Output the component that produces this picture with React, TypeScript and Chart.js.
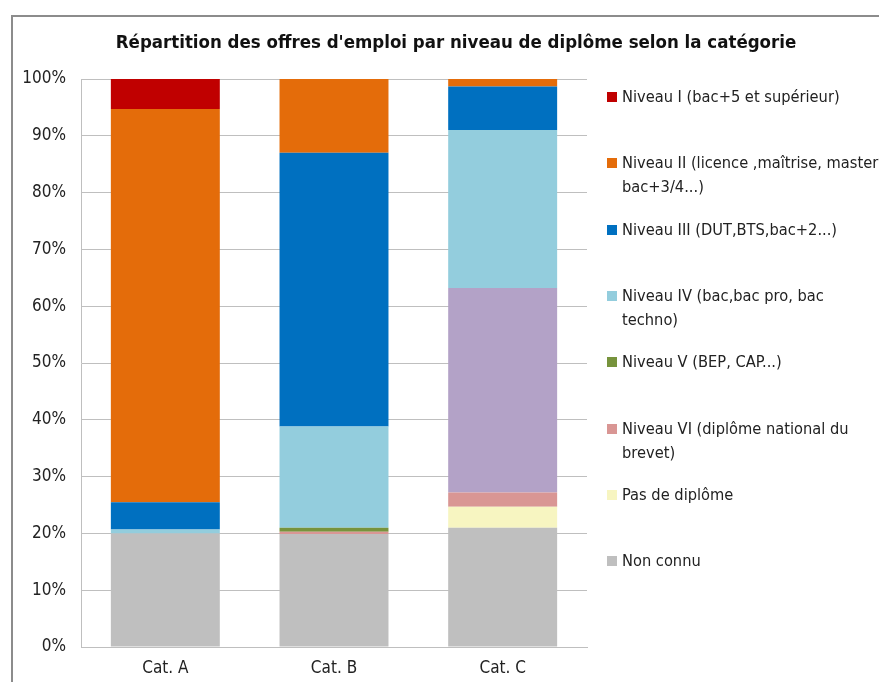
import React, { useEffect, useRef } from "react";
import { Chart, registerables } from "chart.js";

Chart.register(...registerables);

const categories = ["Cat. A", "Cat. B", "Cat. C"];
const nonConnu = [20.0, 19.9, 21.0];
const pasDeDiplome = [0, 0, 3.7];
const niveauVI = [0, 0.4, 2.5];
const niveauV = [0, 0.7, 0];
const autre = [0, 0, 36.0];
const niveauIV = [0.7, 17.8, 27.8];
const niveauIII = [4.8, 48.2, 7.7];
const niveauII = [69.2, 13.0, 1.3];
const niveauI = [5.3, 0, 0];

const yTicks = [0, 10, 20, 30, 40, 50, 60, 70, 80, 90, 100];

const TITLE = "Répartition des offres d'emploi par niveau de diplôme selon la catégorie";

// legend entries (top to bottom), with their explicit line breaks
const legendLabels: string[][] = [
  ["Niveau I (bac+5 et supérieur)"],
  ["Niveau II (licence ,maîtrise, master,", "bac+3/4...)"],
  ["Niveau III (DUT,BTS,bac+2...)"],
  ["Niveau IV (bac,bac pro, bac", "techno)"],
  ["Niveau V (BEP, CAP...)"],
  ["Niveau VI (diplôme national du", "brevet)"],
  ["Pas de diplôme"],
  ["Non connu"],
];
const legendColors = ["#C00000", "#E46C0A", "#0070C0", "#93CDDD", "#77933C", "#D99694", "#F7F5C1", "#BFBFBF"];

const FONT = "'Liberation Sans Narrow', 'DejaVu Sans Condensed', 'Open Sans', sans-serif";

export default function App() {
  const ref = useRef<HTMLCanvasElement | null>(null);

  useEffect(() => {
    if (!ref.current) return;
    const datasets = [
      { label: "Non connu", data: nonConnu, backgroundColor: "#BFBFBF" },
      { label: "Pas de diplôme", data: pasDeDiplome, backgroundColor: "#F7F5C1" },
      { label: "Niveau VI (diplôme national du brevet)", data: niveauVI, backgroundColor: "#D99694" },
      { label: "Niveau V (BEP, CAP...)", data: niveauV, backgroundColor: "#77933C" },
      { label: "", data: autre, backgroundColor: "#B3A2C7" },
      { label: "Niveau IV (bac,bac pro, bac techno)", data: niveauIV, backgroundColor: "#93CDDD" },
      { label: "Niveau III (DUT,BTS,bac+2...)", data: niveauIII, backgroundColor: "#0070C0" },
      { label: "Niveau II (licence ,maîtrise, master, bac+3/4...)", data: niveauII, backgroundColor: "#E46C0A" },
      { label: "Niveau I (bac+5 et supérieur)", data: niveauI, backgroundColor: "#C00000" },
    ].map((d) => ({ ...d, barPercentage: 0.646, categoryPercentage: 1, borderWidth: 0 }));

    const chart = new Chart(ref.current, {
      type: "bar",
      data: { labels: categories, datasets },
      options: {
        animation: false,
        responsive: false,
        devicePixelRatio: 1,
        layout: { padding: { top: 79, left: 0, right: 292, bottom: 0 } },
        plugins: { legend: { display: false }, title: { display: false }, tooltip: { enabled: false } },
        scales: {
          x: {
            stacked: true,
            grid: { display: false, drawTicks: false },
            border: { display: true, color: "#BFBFBF", width: 1 },
            ticks: { padding: 11, color: "#222", font: { family: FONT, size: 17 } },
            afterFit: (s: any) => { s.height = 35; },
          },
          y: {
            stacked: true,
            min: 0,
            max: 100,
            afterBuildTicks: (s: any) => { s.ticks = yTicks.map((v) => ({ value: v })); },
            grid: { color: "#BFBFBF", lineWidth: 1, drawTicks: false },
            border: { display: true, color: "#BFBFBF", width: 1 },
            ticks: { padding: 15, color: "#222", font: { family: FONT, size: 17 }, callback: (v: any) => v + "%" },
            afterFit: (s: any) => { s.width = 81; },
          },
        },
      },
    });
    return () => chart.destroy();
  }, []);

  return (
    <div style={{ position: "fixed", left: 0, top: 0, width: 879, height: 682, overflow: "hidden", background: "#fff", fontFamily: FONT }}>
      <div style={{ position: "absolute", left: 11, top: 15, width: 900, height: 700, borderLeft: "2px solid #8C8C8C", borderTop: "2px solid #8C8C8C" }} />
      <canvas ref={ref} width={879} height={682} style={{ position: "absolute", left: 0, top: 0, width: 879, height: 682 }} />
      <div style={{ position: "absolute", left: 0, width: 912, top: 31, textAlign: "center", fontWeight: "bold", fontSize: 18.5, color: "#111", whiteSpace: "nowrap" }}>
        {TITLE}
      </div>
      {legendLabels.map((lines, i) => (
        <div key={i} style={{ position: "absolute", left: 607, top: 85 + i * 66.3, width: 272, overflow: "hidden" }}>
          <div style={{ position: "absolute", left: 0, top: 7, width: 10, height: 10, background: legendColors[i] }} />
          {lines.map((t, j) => (
            <div key={j} style={{ marginLeft: 15, fontSize: 16.3, lineHeight: "24px", color: "#222", whiteSpace: "nowrap" }}>{t}</div>
          ))}
        </div>
      ))}
    </div>
  );
}
